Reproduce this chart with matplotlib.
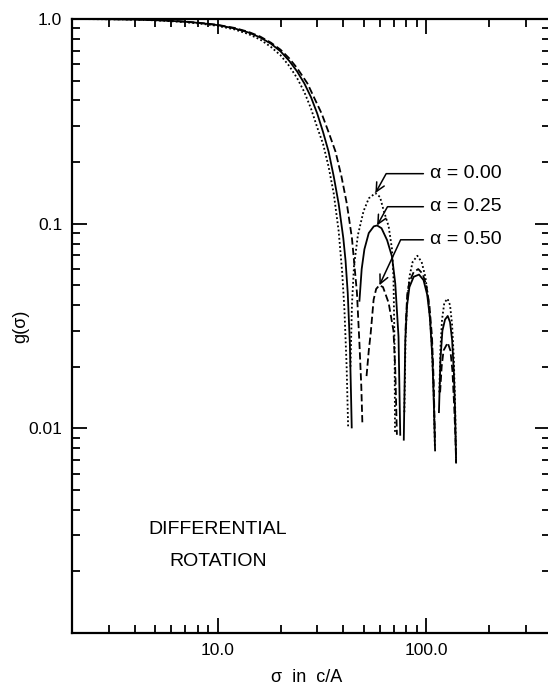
import numpy as np
import matplotlib
matplotlib.use("Agg")
import matplotlib.pyplot as plt
from matplotlib.ticker import FixedLocator, NullFormatter, FixedFormatter

plt.rcParams['font.family'] = ['Liberation Sans', 'DejaVu Sans']

nan = np.nan

# alpha = 0.00 (dotted); lobes separated by NaN
sigma_a00 = [2, 3, 4, 5, 6, 7, 8, 9, 10, 12, 14, 16, 18, 20, 22, 24, 26, 28, 30, 32, 34, 36, 38, 39.5, 40.5, 41.5, 42.2,
             nan,
             43.3, 44, 45, 47, 50, 53, 57, 60, 62.3, 66, 68.5, 69.6, 70.5, 70.8,
             nan,
             78.5, 79.5, 80.8, 83, 86, 90.6, 95, 99, 103, 106, 108.5, 110,
             nan,
             115.5, 117, 119, 122, 126.4, 130, 133, 135.5, 137.5, 139]
g_a00 = [1.0, 0.997, 0.993, 0.985, 0.975, 0.964, 0.952, 0.939, 0.925, 0.89, 0.845, 0.793, 0.73, 0.665, 0.59, 0.515, 0.44, 0.365, 0.295, 0.245, 0.19, 0.14, 0.092, 0.058, 0.038, 0.02, 0.0101,
         nan,
         0.02, 0.04, 0.062, 0.088, 0.115, 0.133, 0.141, 0.135, 0.117, 0.097, 0.075, 0.055, 0.024, 0.0095,
         nan,
         0.012, 0.027, 0.04, 0.055, 0.065, 0.0697, 0.065, 0.055, 0.04, 0.027, 0.015, 0.008,
         nan,
         0.015, 0.025, 0.034, 0.041, 0.043, 0.04, 0.032, 0.022, 0.013, 0.0068]

# alpha = 0.25 (solid)
sigma_a25 = [2, 3, 4, 5, 6, 7, 8, 9, 10, 12, 14, 16, 18, 20, 22, 24, 26, 28, 30, 32, 34, 36, 38, 40, 41, 42, 43, 43.6, 43.9,
             nan,
             47.8, 49, 50.5, 53, 56, 58.1, 61, 64.9, 68.5, 71.0, 73.6, 75,
             nan,
             78, 79.3, 80.8, 83, 87, 92.3, 97, 101, 104, 107, 109, 110.2,
             nan,
             115, 117, 119.5, 123, 126.7, 130, 133, 135.5, 137.5, 139]
g_a25 = [1.0, 0.998, 0.994, 0.987, 0.979, 0.969, 0.958, 0.946, 0.933, 0.9, 0.86, 0.812, 0.757, 0.695, 0.625, 0.555, 0.485, 0.415, 0.345, 0.28, 0.225, 0.17, 0.125, 0.085, 0.066, 0.046, 0.026, 0.014, 0.0101,
         nan,
         0.042, 0.06, 0.075, 0.09, 0.097, 0.098, 0.095, 0.083, 0.069, 0.051, 0.028, 0.0093,
         nan,
         0.0088, 0.027, 0.0395, 0.049, 0.055, 0.0564, 0.053, 0.045, 0.035, 0.022, 0.012, 0.0078,
         nan,
         0.012, 0.022, 0.03, 0.034, 0.0354, 0.033, 0.027, 0.019, 0.012, 0.0068]

# alpha = 0.50 (dashed)
sigma_a50 = [2, 3, 4, 5, 6, 7, 8, 9, 10, 12, 14, 16, 18, 20, 22, 24, 26.9, 31.5, 34, 36.7, 39.2, 41.6, 44, 46.5, 47.8, 48.8, 49.4,
             nan,
             51.7, 53, 54.1, 55.9, 57.5, 59.6, 62, 66, 69.6, 71, 72.3,
             nan,
             79.5, 81, 83, 87, 91.5, 96, 100, 103.5, 106.5, 108.5, 110,
             nan,
             116.5, 118.5, 121, 126.7, 130.5, 133.5, 136, 138, 139]
g_a50 = [1.0, 0.998, 0.995, 0.989, 0.981, 0.971, 0.96, 0.948, 0.936, 0.905, 0.866, 0.82, 0.766, 0.708, 0.643, 0.576, 0.485, 0.345, 0.28, 0.225, 0.17, 0.125, 0.085, 0.046, 0.026, 0.016, 0.0104,
         nan,
         0.018, 0.024, 0.029, 0.0425, 0.048, 0.05, 0.049, 0.041, 0.03, 0.0194, 0.0093,
         nan,
         0.03, 0.045, 0.052, 0.058, 0.06, 0.057, 0.05, 0.04, 0.028, 0.017, 0.009,
         nan,
         0.015, 0.02, 0.024, 0.0262, 0.024, 0.019, 0.013, 0.009, 0.0068]

alpha_labels = ['\u03b1 = 0.00', '\u03b1 = 0.25', '\u03b1 = 0.50']
x_major = [10, 100]
x_major_labels = ['10.0', '100.0']
y_major = [1.0, 0.1, 0.01, 0.001]
y_major_labels = ['1.0', '0.1', '0.01', '']

W, H = 548, 687
fig = plt.figure(figsize=(W / 100, H / 100), dpi=100)
ax = fig.add_axes([72 / W, (H - 633) / H, 478 / W, 614 / H])
ax.set_xscale('log')
ax.set_yscale('log')
ax.set_xlim(2, 392)
ax.set_ylim(0.001, 1.0)

lw = 1.3
ax.plot(sigma_a00, g_a00, color='black', lw=lw, linestyle=(0, (1, 1.3)))
ax.plot(sigma_a25, g_a25, color='black', lw=lw, linestyle='-')
ax.plot(sigma_a50, g_a50, color='black', lw=lw, linestyle=(0, (4, 1.8)))

# ticks
ax.xaxis.set_major_locator(FixedLocator(x_major))
ax.xaxis.set_major_formatter(FixedFormatter(x_major_labels))
minors_x = [m * 10.0 ** e for e in range(0, 3) for m in range(2, 10)]
ax.xaxis.set_minor_locator(FixedLocator(minors_x))
ax.xaxis.set_minor_formatter(NullFormatter())
ax.yaxis.set_major_locator(FixedLocator(y_major))
ax.yaxis.set_major_formatter(FixedFormatter(y_major_labels))
minors_y = [m * 10.0 ** e for e in range(-3, 0) for m in range(2, 10)]
ax.yaxis.set_minor_locator(FixedLocator(minors_y))
ax.yaxis.set_minor_formatter(NullFormatter())

ax.tick_params(which='both', direction='in', top=True, right=True, width=1.3, labelsize=12.5, pad=7)
ax.tick_params(which='major', length=11)
ax.tick_params(which='minor', length=5.5)
for sp in ax.spines.values():
    sp.set_linewidth(1.6)

ax.set_xlabel('\u03c3  in  c/A', fontsize=13)
ax.xaxis.set_label_coords(0.49, -0.058)
ax.set_ylabel('g(\u03c3)', fontsize=13)
ax.yaxis.set_label_coords(-0.09, 0.5)

# annotations pointing to first side-lobe peaks
curves = [(sigma_a00, g_a00), (sigma_a25, g_a25), (sigma_a50, g_a50)]
text_y = [0.1755, 0.121, 0.0834]
angles = [61, 61, 65]
for (s, g), lab, ty, ang in zip(curves, alpha_labels, text_y, angles):
    s = np.array(s, dtype=float)
    g = np.array(g, dtype=float)
    m = (s > 45) & (s < 75)
    i = np.nanargmax(np.where(m, g, -1))
    ax.annotate(lab, xy=(s[i], g[i]), xytext=(104.6, ty), textcoords='data',
                ha='left', va='center', fontsize=14,
                arrowprops=dict(arrowstyle='->,head_length=0.45,head_width=0.22', lw=1.1, color='black',
                                shrinkA=3, shrinkB=0,
                                connectionstyle='angle,angleA=0,angleB=%d,rad=0' % ang))

ax.text(10.0, 10 ** (-(530 - 19) / 205), 'DIFFERENTIAL', ha='center', va='center', fontsize=14)
ax.text(10.0, 10 ** (-(562 - 19) / 205), 'ROTATION', ha='center', va='center', fontsize=14)

fig.savefig('out.png', dpi=100)
